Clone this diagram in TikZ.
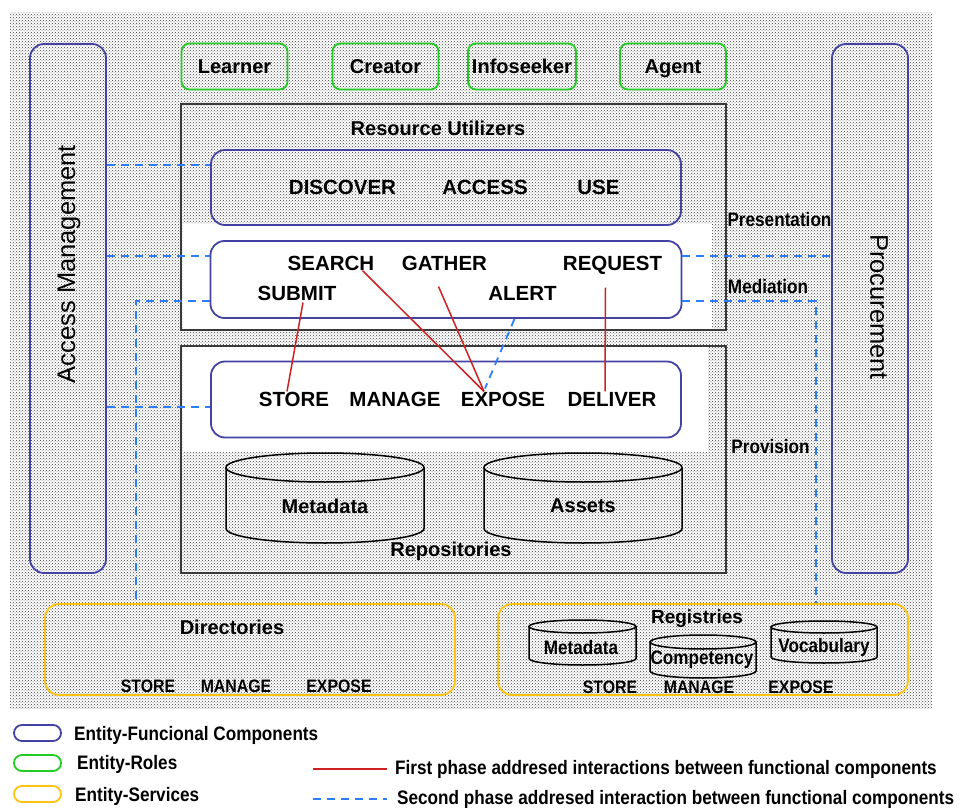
\documentclass[tikz,border=0pt]{standalone}
\usepackage{fontspec}
\setmainfont{Liberation Sans}
\newfontfamily\narrowfont{Liberation Sans}[FakeStretch=0.88]
\usetikzlibrary{patterns,calc}
\definecolor{FuncBlue}{HTML}{4343A3}
\definecolor{RoleGreen}{HTML}{22CC22}
\definecolor{ServYellow}{HTML}{FFC20E}
\definecolor{PhaseRed}{HTML}{CC2222}
\definecolor{PhaseBlue}{HTML}{2B7FFF}
\definecolor{FrameGray}{HTML}{3A3A3A}
\newcommand{\opfont}{\fontsize{20.5}{24}\selectfont\bfseries}
\newcommand{\titlefont}{\fontsize{20}{24}\selectfont\bfseries}
\newcommand{\keyfont}{\narrowfont\fontsize{19.5}{23}\selectfont\bfseries}
\newcommand{\svcfont}{\narrowfont\fontsize{18}{21}\selectfont\bfseries}
\newcommand{\sidefont}{\fontsize{25.5}{30}\selectfont}
% drum: centre x, top y, x radius, y radius, side length
\newcommand{\drum}[5]{%
  \draw[drumline] (#1,#2+#4) ellipse[x radius=#3, y radius=#4];
  \draw[drumline] (#1-#3,#2+#4) -- ++(0,#5)
    arc[start angle=180, end angle=0, x radius=#3, y radius=#4] -- ++(0,-#5);
}
\tikzset{
  fcomp/.style={draw=FuncBlue, line width=1.8pt, rounded corners=14pt},
  rolebox/.style={draw=RoleGreen, line width=1.8pt, rounded corners=8pt,
    minimum width=106pt, minimum height=46pt, font=\titlefont,
    text height=14.5pt, text depth=0pt},
  servbox/.style={draw=ServYellow, line width=1.8pt, rounded corners=14pt,
    minimum width=410pt, minimum height=91pt},
  layer/.style={draw=FrameGray, line width=1.5pt, minimum width=545pt},
  op/.style={inner sep=0pt, font=\opfont, text height=14.7pt, text depth=0pt},
  title/.style={inner sep=0pt, font=\titlefont},
  svcop/.style={inner sep=0pt, font=\svcfont},
  keytxt/.style={inner sep=0pt, font=\keyfont, anchor=west},
  sidetxt/.style={inner sep=0pt, font=\sidefont},
  drumline/.style={draw=black, line width=1.5pt},
  keypill/.style={line width=1.8pt, rounded corners=8pt, minimum width=47pt, minimum height=16pt},
  phase1/.style={draw=PhaseRed, line width=1.5pt},
  phase2/.style={draw=PhaseBlue, line width=1.8pt, dash pattern=on 8pt off 6pt},
}
\begin{document}
\begin{tikzpicture}[x=1pt, y=-1pt]
  \useasboundingbox (0,0) rectangle (962,808);
  % --- dotted canvas ---
  \fill[pattern=crosshatch dots, pattern color=black!75] (10,13) rectangle (932,708);
  \fill[white] (183,224) rectangle (712,329);
  \fill[white] (183,347) rectangle (708,452);

  % --- side columns ---
  \node[fcomp, minimum width=76pt, minimum height=529pt] (accbox) at (68,308.5) {};
  \node[sidetxt, rotate=90] (acctxt) at (69,264) {Access Management};
  \node[fcomp, minimum width=76pt, minimum height=529pt] (procbox) at (870,308.5) {};
  \node[sidetxt, rotate=-90] (proctxt) at (879,307) {Procurement};

  % --- roles ---
  \node[rolebox] (learner) at (234.5,66.5) {Learner};
  \node[rolebox] (creator) at (385.5,66.5) {Creator};
  \node[rolebox, minimum width=108pt] (infoseeker) at (522,66.5) {Infoseeker};
  \node[rolebox] (agent) at (673,66.5) {Agent};

  % --- layers ---
  \node[layer, minimum height=226pt] (utilizers) at (453.5,217) {};
  \node[title] (utiltxt) at (438,128) {Resource Utilizers};
  \node[layer, minimum height=227pt] (repos) at (453.5,459.5) {};
  \node[title] (repotxt) at (451,551) {Repositories};

  % --- functional components ---
  \node[fcomp, minimum width=470pt, minimum height=75pt] (presbox) at (446,187.5) {};
  \node[op] (discover) at (342.5,187) {DISCOVER};
  \node[op] (access) at (485,187) {ACCESS};
  \node[op] (use) at (598.5,187) {USE};

  \node[fcomp, minimum width=471pt, minimum height=77pt] (medbox) at (446,279.5) {};
  \node[op] (search) at (331,263) {SEARCH};
  \node[op] (gather) at (444.5,263) {GATHER};
  \node[op] (request) at (612.5,263) {REQUEST};
  \node[op] (submit) at (297,293) {SUBMIT};
  \node[op] (alert) at (522.5,293) {ALERT};

  \node[fcomp, minimum width=470pt, minimum height=76pt] (provbox) at (446,399.5) {};
  \node[op] (store) at (294,399) {STORE};
  \node[op] (manage) at (395,399) {MANAGE};
  \node[op] (expose) at (503,399) {EXPOSE};
  \node[op] (deliver) at (612,399) {DELIVER};

  \drum{325}{453}{99}{14.5}{61}
  \drum{583}{453}{99}{14.5}{61}
  \node[title] (metadata) at (325,506) {Metadata};
  \node[title] (assets) at (583,506) {Assets};

  % --- layer labels ---
  \node[svcop, font=\keyfont] (presl) at (779.5,220) {Presentation};
  \node[svcop, font=\keyfont] (medl) at (768,287) {Mediation};
  \node[svcop, font=\keyfont] (provl) at (770.5,447) {Provision};

  % --- services ---
  \node[servbox] (dirs) at (250,649.5) {};
  \node[title] (dirtxt) at (232,627) {Directories};
  \node[svcop] (dstore) at (148,686) {STORE};
  \node[svcop] (dmanage) at (236,686) {MANAGE};
  \node[svcop] (dexpose) at (339,686) {EXPOSE};

  \node[servbox] (regs) at (703,649.5) {};
  \node[title, font=\fontsize{19}{22}\selectfont\bfseries] (regtxt) at (697,619) {Registries};
  \drum{582.5}{620}{53.5}{6.5}{32}
  \drum{703}{635}{53}{7}{29}
  \drum{824}{621}{53}{6}{30}
  \node[svcop, font=\keyfont] (rmeta) at (581,648) {Metadata};
  \node[svcop, font=\keyfont] (rcomp) at (702,660) {Competency};
  \node[svcop, font=\keyfont] (rvoc) at (824,647) {Vocabulary};
  \node[svcop] (rstore) at (610,687) {STORE};
  \node[svcop] (rmanage) at (699,687) {MANAGE};
  \node[svcop] (rexpose) at (801,687) {EXPOSE};

  % --- second phase links ---
  \draw[phase2] (accbox.east |- 0,165) -- (presbox.west |- 0,165);
  \draw[phase2] (accbox.east |- 0,256) -- (medbox.west |- 0,256);
  \draw[phase2] (medbox.east |- 0,256) -- (procbox.west |- 0,256);
  \draw[phase2] (accbox.east |- 0,407) -- (provbox.west |- 0,407);
  \draw[phase2] (medbox.west |- 0,301) -| (dirs.north -| 136,0);
  \draw[phase2] (medbox.east |- 0,301) -| (regs.north -| 816,0);
  \draw[phase2] ($(alert.south |- medbox.south)+(-8,0)$) -- ([xshift=-18pt,yshift=3pt]expose.north);

  % --- first phase links ---
  \draw[phase1] ([xshift=6pt,yshift=-2pt]submit.south) -- ([xshift=-7pt]store.north);
  \draw[phase1] ([xshift=-12pt]search.south east) -- ([xshift=-19pt]expose.north);
  \draw[phase1] ([xshift=-6pt,yshift=-16pt]gather.south) -- ([xshift=-19pt]expose.north);
  \draw[phase1] ([xshift=-7pt,yshift=-17pt]request.south) -- ([xshift=-7pt]deliver.north);

  % --- legend ---
  \node[keypill, draw=FuncBlue] (keyfunc) at (37.5,733) {};
  \node[keytxt] (functxt) at (74,735) {Entity-Funcional Components};
  \node[keypill, draw=RoleGreen] (keyrole) at (37.5,763) {};
  \node[keytxt] (roletxt) at (77,764) {Entity-Roles};
  \node[keypill, draw=ServYellow] (keyserv) at (37.5,794) {};
  \node[keytxt] (servtxt) at (75,796) {Entity-Services};
  \node[keytxt] (firsttxt) at (395,769) {First phase addresed interactions between functional components};
  \node[keytxt] (secondtxt) at (397,799) {Second phase addresed interaction between functional components};
  \draw[phase1] ([xshift=-82pt]firsttxt.west) -- ([xshift=-8pt]firsttxt.west);
  \draw[phase2] ([xshift=-84pt]secondtxt.west) -- ([xshift=-10pt]secondtxt.west);
\end{tikzpicture}
\end{document}
